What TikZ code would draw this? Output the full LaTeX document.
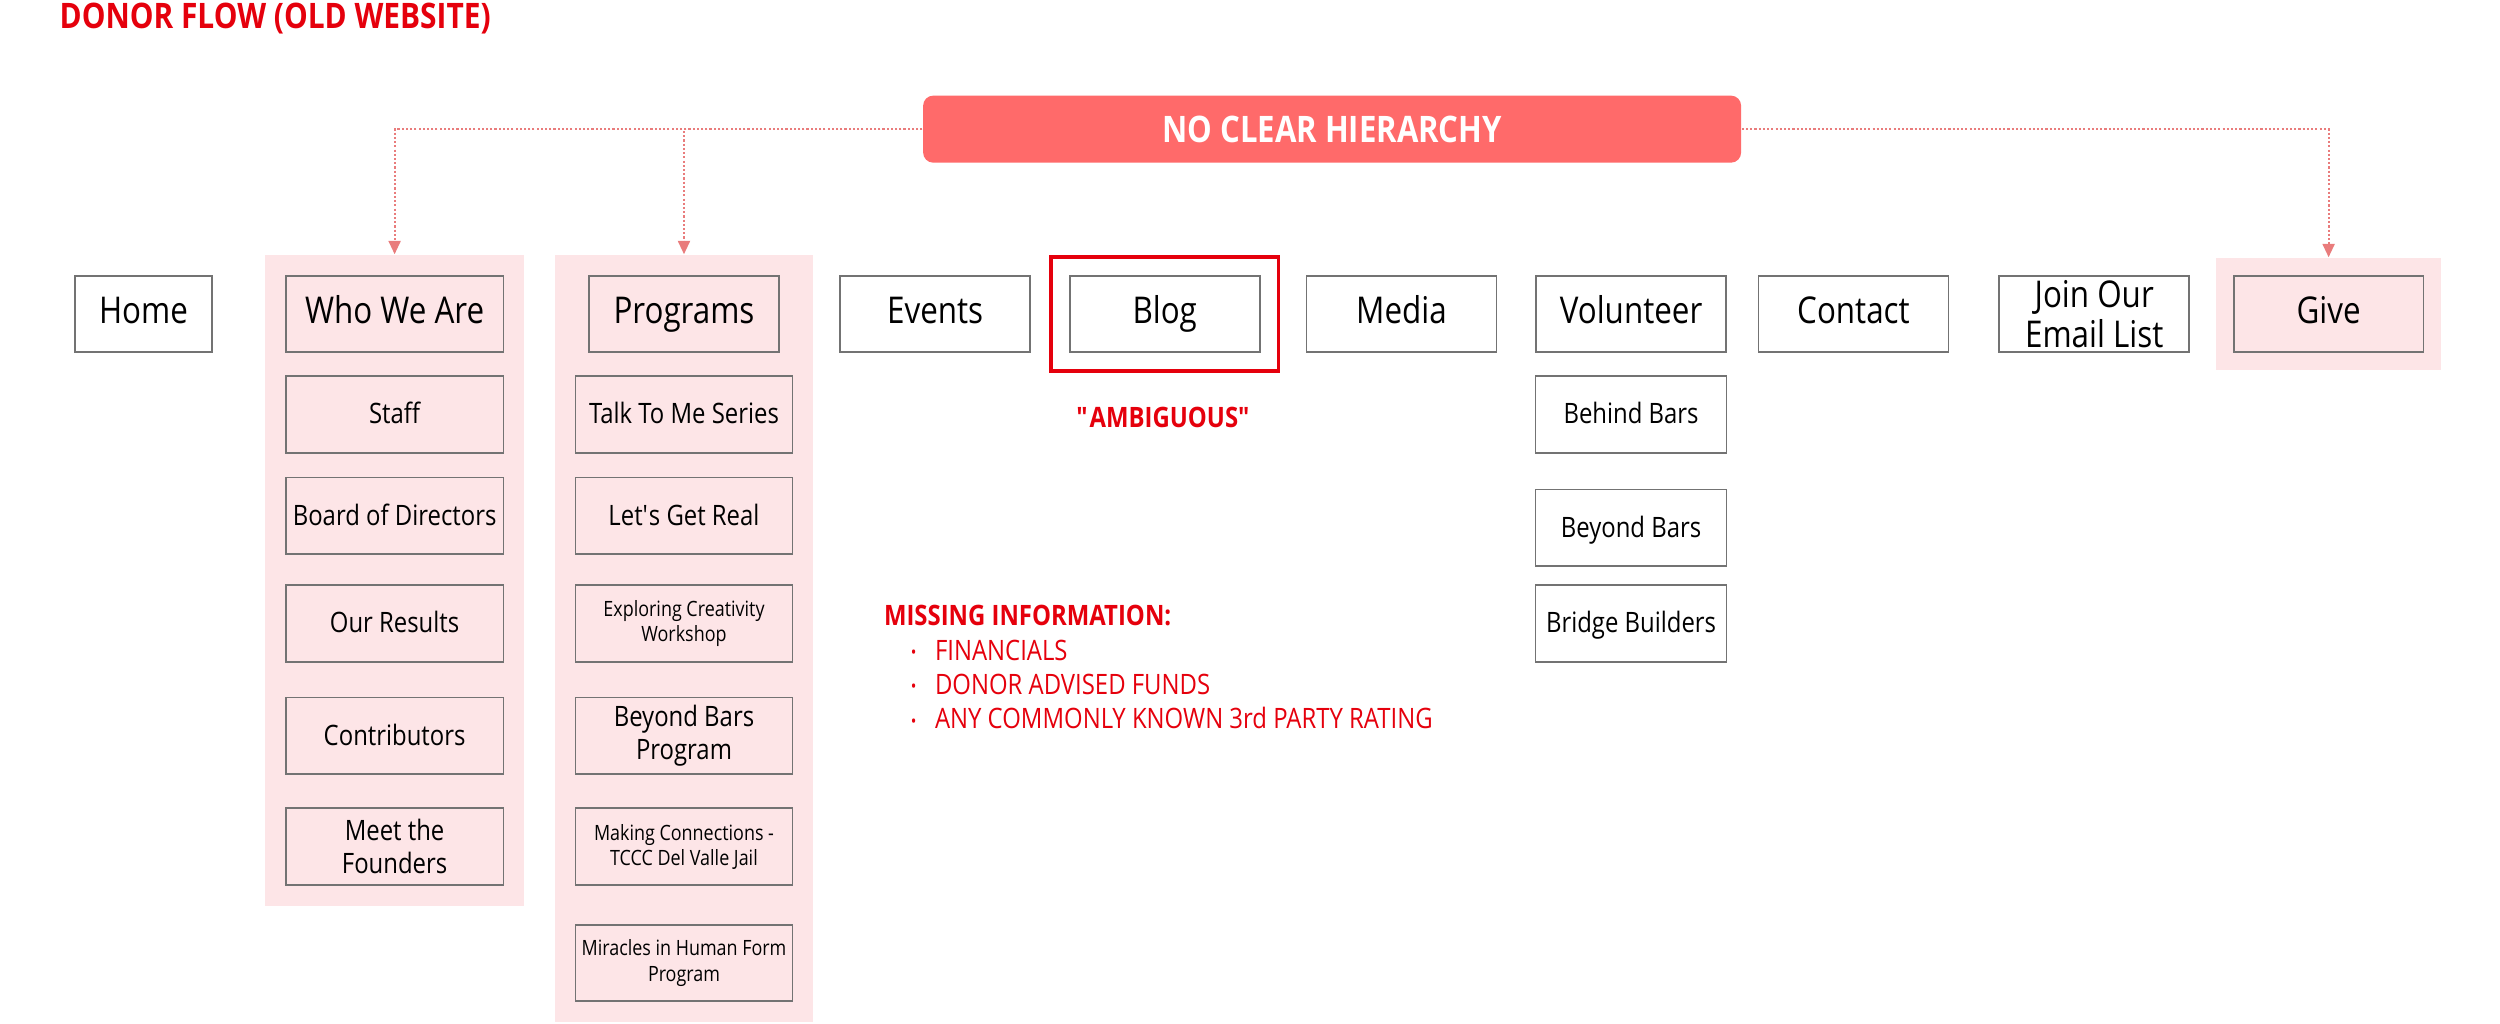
\documentclass[tikz,border=0pt]{standalone}
\usepackage{fontspec}
\setmainfont{Open Sans}[FakeStretch=0.85]
\usetikzlibrary{arrows.meta,fit,backgrounds}
\definecolor{panelpink}{HTML}{FDE5E7}
\definecolor{bannerred}{HTML}{FF6A6A}
\definecolor{hintred}{HTML}{E97C7C}
\definecolor{alertred}{HTML}{E5000C}

\begin{document}
\begin{tikzpicture}[x=0.015944cm,y=-0.015944cm,
		box/.style={draw=black!55,line width=0.5pt,inner sep=1pt,align=center,minimum height=0.765cm},
		top/.style={box,minimum width=1.9cm,font=\fontsize{10.5}{11.3}\selectfont},
		oneline/.style={text height=0.75em,text depth=0.22em},
		sub/.style={box,font=\fontsize{8}{9.5}\selectfont},
		small/.style={box,font=\fontsize{6}{7.2}\selectfont},
		panel/.style={fill=panelpink,inner sep=0.2cm},
		hint/.style={draw=hintred,line width=0.6pt,dash pattern=on 0.6pt off 0.6pt,-{Triangle[width=3.4pt,length=3.8pt]}},
		note/.style={text=alertred,inner sep=0,font=\fontsize{8}{9.5}\selectfont}]
			\useasboundingbox (0,0) rectangle (1568,642);

			\node[anchor=base west,inner sep=0,text=alertred,font=\bfseries\fontsize{10}{12}\selectfont] (title) at (37,18) {DONOR FLOW (OLD WEBSITE)};
			\node[fill=bannerred,rounded corners=0.1cm,minimum width=8.18cm,minimum height=0.67cm,text=white,font=\bfseries\fontsize{10.4}{12}\selectfont] (banner) at (835.5,81) {NO CLEAR HIERARCHY};

			% top row
			\node[top,oneline,minimum width=1.37cm] (home) at (90,197) {Home};
			\node[top,oneline,minimum width=2.18cm] (who) at (247.5,197) {Who We Are};
			\node[top,oneline] (prog) at (429,197) {Programs};
			\node[top,oneline] (events) at (586.5,197) {Events};
			\node[top,oneline] (blog) at (730.5,197) {Blog};
			\node[top,oneline] (media) at (879,197) {Media};
			\node[top,oneline] (vol) at (1023,197) {Volunteer};
			\node[top,oneline] (contact) at (1162.5,197) {Contact};
			\node[top] (join) at (1313.5,197) {Join Our\\Email List};
			\node[top,oneline] (give) at (1460.5,197) {Give};

			% who we are
			\node[sub,oneline,minimum width=2.18cm] (staff) at (247.5,260) {Staff};
			\node[sub,oneline,minimum width=2.18cm] (board) at (247.5,323.5) {Board of Directors};
			\node[sub,oneline,minimum width=2.18cm] (results) at (247.5,391) {Our Results};
			\node[sub,oneline,minimum width=2.18cm] (contrib) at (247.5,461.5) {Contributors};
			\node[sub,minimum width=2.18cm] (founders) at (247.5,531) {Meet the\\Founders};

			% programs
			\node[sub,oneline,minimum width=2.17cm] (talk) at (429,260) {Talk To Me Series};
			\node[sub,oneline,minimum width=2.17cm] (real) at (429,323.5) {Let\textquotesingle s Get Real};
			\node[small,minimum width=2.17cm] (explore) at (429,391) {Exploring Creativity\\Workshop};
			\node[sub,minimum width=2.17cm] (beyondprog) at (429,461.5) {Beyond Bars\\Program};
			\node[small,minimum width=2.17cm] (making) at (429,531) {Making Connections -\\TCCC Del Valle Jail};
			\node[small,minimum width=2.17cm] (miracles) at (429,604) {Miracles in Human Form\\Program};

			% volunteer
			\node[sub,oneline,minimum width=1.91cm] (behind) at (1023,260) {Behind Bars};
			\node[sub,oneline,minimum width=1.91cm] (beyond) at (1023,331) {Beyond Bars};
			\node[sub,oneline,minimum width=1.91cm] (bridge) at (1023,391) {Bridge Builders};

			\begin{scope}[on background layer]
				\node[panel,fit=(who)(founders)] (whopanel) {};
				\node[panel,fit=(prog)(talk)(miracles)] (progpanel) {};
				\node[panel,inner sep=0.17cm,fit=(give)] (givepanel) {};
			\end{scope}

			\node[draw=alertred,line width=1pt,inner sep=0.18cm,fit=(blog)] (blogmark) {};
			\node[note,font=\bfseries\fontsize{8}{9.5}\selectfont] (ambig) at (730,262) {\textquotedbl AMBIGUOUS\textquotedbl};

			\draw[hint] (banner.west) -| (whopanel.north);
			\draw[hint] (banner.west) -| (progpanel.north);
			\draw[hint] (banner.east) -| (givepanel.north);

			% missing information
			\node[note,anchor=base west,font=\bfseries\fontsize{8}{9.5}\selectfont] (missing) at (554,392) {MISSING INFORMATION:};
			\node[note,anchor=base,font=\fontsize{5}{6}\selectfont] (dot1) at (573,413) {•};
			\node[note,anchor=base west] (fin) at (586,414) {FINANCIALS};
			\node[note,anchor=base,font=\fontsize{5}{6}\selectfont] (dot2) at (573,434.5) {•};
			\node[note,anchor=base west] (daf) at (586,435.5) {DONOR ADVISED FUNDS};
			\node[note,anchor=base,font=\fontsize{5}{6}\selectfont] (dot3) at (573,456) {•};
			\node[note,anchor=base west] (rating) at (586,457) {ANY COMMONLY KNOWN 3rd PARTY RATING};
		\end{tikzpicture}
\end{document}
